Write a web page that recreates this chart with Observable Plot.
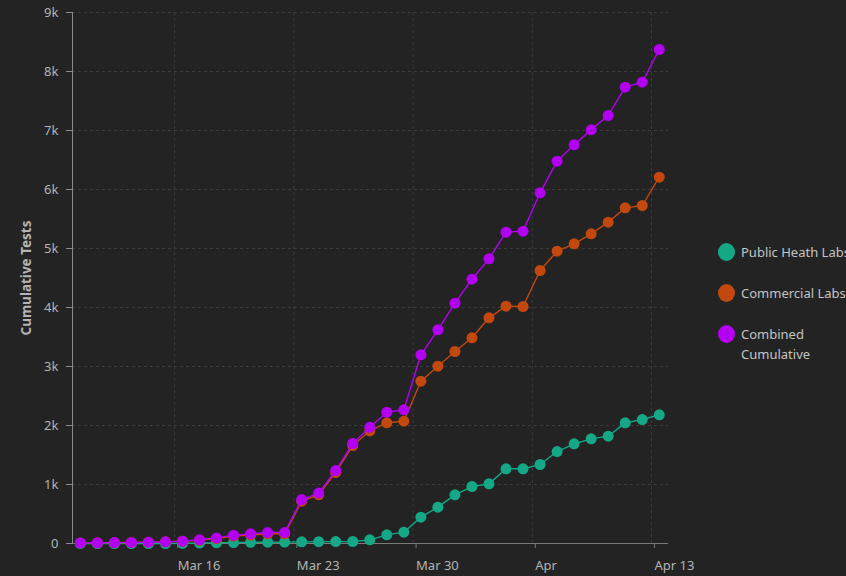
<!DOCTYPE html>
<html>
<head>
<meta charset="utf-8">
<script src="https://cdn.jsdelivr.net/npm/d3@7"></script>
<script src="https://cdn.jsdelivr.net/npm/@observablehq/plot@0.6"></script>
<style>
  html, body { margin: 0; padding: 0; background: #232323; overflow: hidden; width: 846px; height: 576px; }
  #wrap { position: relative; width: 846px; height: 576px; }
  .legend { position: absolute; left: 718px; top: 0; font-family: "Noto Sans", sans-serif; font-size: 13px; color: #c4c4c4; white-space: nowrap; }
  .item { position: absolute; left: 0; display: flex; align-items: flex-start; }
  .sw { width: 17px; height: 18px; border-radius: 50%; margin-top: 0px; flex: none; }
  .lab { margin-left: 6px; line-height: 20px; margin-top: -1px; }
</style>
</head>
<body>
<div id="wrap"></div>
<script>
// Dates (daily observations)
const dates = ["2020-03-10","2020-03-11","2020-03-12","2020-03-13","2020-03-14","2020-03-15","2020-03-16",
  "2020-03-17","2020-03-18","2020-03-19","2020-03-20","2020-03-21","2020-03-22","2020-03-23",
  "2020-03-24","2020-03-25","2020-03-26","2020-03-27","2020-03-28","2020-03-29","2020-03-30",
  "2020-03-31","2020-04-01","2020-04-02","2020-04-03","2020-04-04","2020-04-05","2020-04-06",
  "2020-04-07","2020-04-08","2020-04-09","2020-04-10","2020-04-11","2020-04-12","2020-04-13"];
const publicLabs = [0,0,0,0,0,0,2,8,12,15,20,22,24,28,30,32,34,62,147,192,446,616,825,966,1011,1266,1266,1339,1559,1689,1774,1819,2045,2101,2181];
const commercialLabs = [10,12,15,18,22,28,38,55,83,126,144,164,164,717,825,1205,1661,1908,2046,2073,2751,3005,3254,3486,3825,4022,4017,4627,4954,5079,5249,5446,5689,5729,6209];
const combined = [10,12,15,18,22,28,40,63,95,141,164,186,188,745,855,1237,1695,1970,2226,2266,3198,3622,4073,4480,4825,5277,5294,5944,6480,6757,7011,7254,7734,7819,8373];
const seriesNames = ["Public Heath Labs", "Commercial Labs", "Combined\nCumulative"];
const seriesColors = ["#14a886", "#c2480e", "#b400f2"];
const xTickDates = ["2020-03-16","2020-03-23","2020-03-30","2020-04-06","2020-04-13"];
const xTickLabels = ["Mar 16","Mar 23","Mar 30","Apr","Apr 13"];
const yTicks = [0,1000,2000,3000,4000,5000,6000,7000,8000,9000];
const yTickLabels = ["0","1k","2k","3k","4k","5k","6k","7k","8k","9k"];
const xDomain = ["2020-03-10","2020-04-14"];
const reportHour = 11; // observations are reported late morning

const parse = d3.utcParse("%Y-%m-%d");
const obs = s => d3.utcHour.offset(parse(s), reportHour);
const mk = vals => dates.map((d, i) => ({date: obs(d), value: vals[i]}));
const series = [mk(publicLabs), mk(commercialLabs), mk(combined)];
const tickDates = xTickDates.map(parse);
const xLabelOf = new Map(tickDates.map((d, i) => [+d, xTickLabels[i]]));
const yLabelOf = new Map(yTicks.map((v, i) => [v, yTickLabels[i]]));

const gridColor = "#3b3b3b";
const textColor = "#b4b4b4";

const marks = [
  Plot.gridY(yTicks, {stroke: gridColor, strokeOpacity: 1, strokeDasharray: "3,3"}),
  Plot.gridX(tickDates, {stroke: gridColor, strokeOpacity: 1, strokeDasharray: "3,3"}),
  Plot.ruleY([0], {stroke: "#7a7a7a", strokeWidth: 1}),
  Plot.frame({anchor: "left", stroke: "#8a8a8a"}),
  Plot.axisY({ticks: yTicks, tickFormat: v => yLabelOf.get(v), tickSize: 6, tickPadding: 8, label: null, stroke: "#8a8a8a", fill: textColor, fontSize: 13}),
  Plot.axisX({ticks: tickDates, tickFormat: d => xLabelOf.get(+d), tickSize: 5, tickPadding: 12, label: null, stroke: "#7a7a7a", fill: textColor, textAnchor: "start", dx: 3, fontSize: 13}),
  Plot.text(["Cumulative Tests"], {frameAnchor: "left", textAnchor: "middle", lineAnchor: "middle", rotate: -90, dx: -46, fill: textColor, fontWeight: "bold", fontSize: 13.5})
];
series.forEach((s, i) => {
  marks.push(Plot.line(s, {x: "date", y: "value", stroke: seriesColors[i], strokeWidth: 1.4}));
  marks.push(Plot.dot(s, {x: "date", y: "value", fill: seriesColors[i], r: 5.5}));
});

const chart = Plot.plot({
  width: 846,
  height: 576,
  marginLeft: 72,
  marginRight: 178,
  marginTop: 12,
  marginBottom: 33,
  style: {background: "#232323", fontFamily: "'Noto Sans', sans-serif", fontSize: "13px", color: textColor},
  x: {type: "utc", domain: xDomain.map(parse)},
  y: {domain: [0, 9000]},
  marks
});
const wrap = document.getElementById("wrap");
wrap.appendChild(chart);

// Legend
const legend = document.createElement("div");
legend.className = "legend";
const legendTops = [243, 284, 325];
seriesNames.forEach((name, i) => {
  const item = document.createElement("div");
  item.className = "item";
  item.style.top = legendTops[i] + "px";
  const sw = document.createElement("div");
  sw.className = "sw";
  sw.style.background = seriesColors[i];
  const lab = document.createElement("div");
  lab.className = "lab";
  lab.innerHTML = name.split("\n").join("<br>");
  item.appendChild(sw);
  item.appendChild(lab);
  legend.appendChild(item);
});
wrap.appendChild(legend);
</script>
</body>
</html>
